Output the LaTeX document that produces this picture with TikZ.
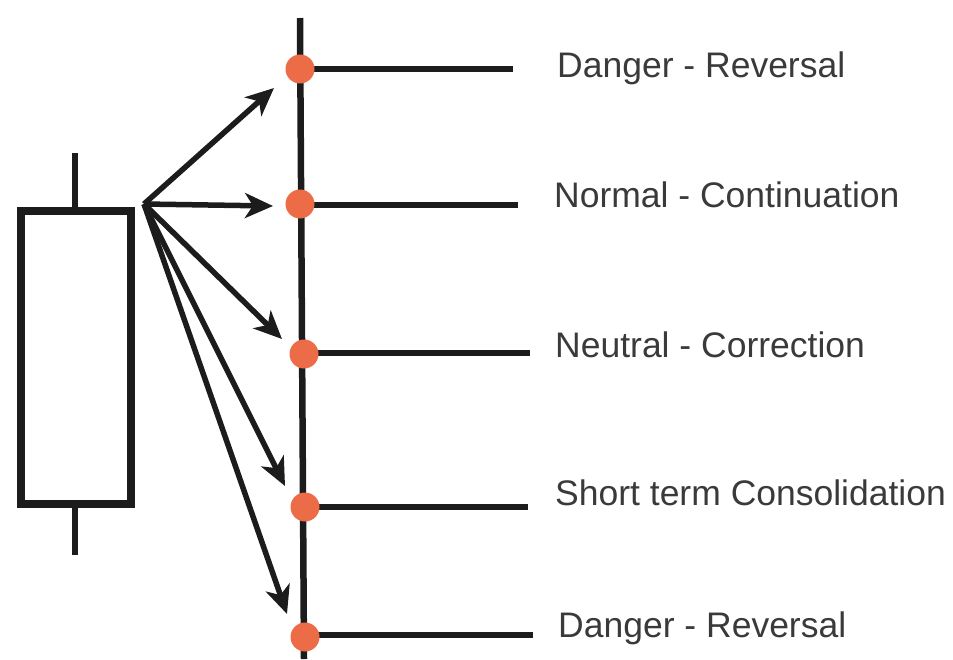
\documentclass[tikz,border=0pt]{standalone}
\usepackage{fontspec}
\setmainfont{Liberation Sans}
\usetikzlibrary{arrows.meta}
\definecolor{ink}{RGB}{28,28,28}
\definecolor{txt}{RGB}{58,58,58}
\definecolor{dotred}{RGB}{236,108,72}
\begin{document}
\begin{tikzpicture}[x=1pt,y=-1pt,
      ln/.style={draw=ink,line width=6.5pt},
      arr/.style={draw=ink,line width=5.5pt,-{Stealth[length=28pt,width=25pt,inset=8pt]}},
      pt/.style={circle,fill=dotred,inner sep=0pt,minimum size=29pt},
      lbl/.style={anchor=base west,inner sep=0pt,text=txt,font=\fontsize{35.5}{40}\selectfont}]
      \useasboundingbox (0,0) rectangle (953,659);
      % candle
      \node[draw=ink,line width=7.5pt,inner sep=0pt,minimum width=110pt,minimum height=293pt] (candle) at (76,357.5) {};
      \coordinate (wtop) at (75,153);
      \coordinate (wbot) at (75,555);
      \draw[ln] (candle.north -| wtop) -- (wtop);
      \draw[ln] (candle.south -| wbot) -- (wbot);
      % axis
      \coordinate (atop) at (300,18);
      \coordinate (abot) at (304,659);
      \draw[ln] (atop) -- (abot);
      % levels
      \coordinate (e1) at (513,69);
      \coordinate (e2) at (518,205);
      \coordinate (e3) at (530,353);
      \coordinate (e4) at (528,507);
      \coordinate (e5) at (533,635);
      \draw[ln] (300,69) -- (e1);
      \draw[ln] (301,205) -- (e2);
      \draw[ln] (303,353) -- (e3);
      \draw[ln] (303,507) -- (e4);
      \draw[ln] (304,635) -- (e5);
      \node[pt] (d1) at (300,69) {};
      \node[pt] (d2) at (300,204) {};
      \node[pt] (d3) at (304,354) {};
      \node[pt] (d4) at (305,507) {};
      \node[pt] (d5) at (305,637) {};
      \node[lbl] (l1) at (557,77) {Danger - Reversal};
      \node[lbl] (l2) at (554,207) {Normal - Continuation};
      \node[lbl] (l3) at (555,357) {Neutral - Correction};
      \node[lbl] (l4) at (555,505) {Short term Consolidation};
      \node[lbl] (l5) at (558,637) {Danger - Reversal};
      % arrows
      \coordinate (src) at (144,204);
      \coordinate (t1) at (274,88);
      \coordinate (t2) at (273,206);
      \coordinate (t3) at (282,339);
      \coordinate (t4) at (285,486);
      \coordinate (t5) at (287,614);
      \foreach \i in {1,...,5}
        \draw[arr] (src) -- (t\i);
  \end{tikzpicture}
\end{document}
